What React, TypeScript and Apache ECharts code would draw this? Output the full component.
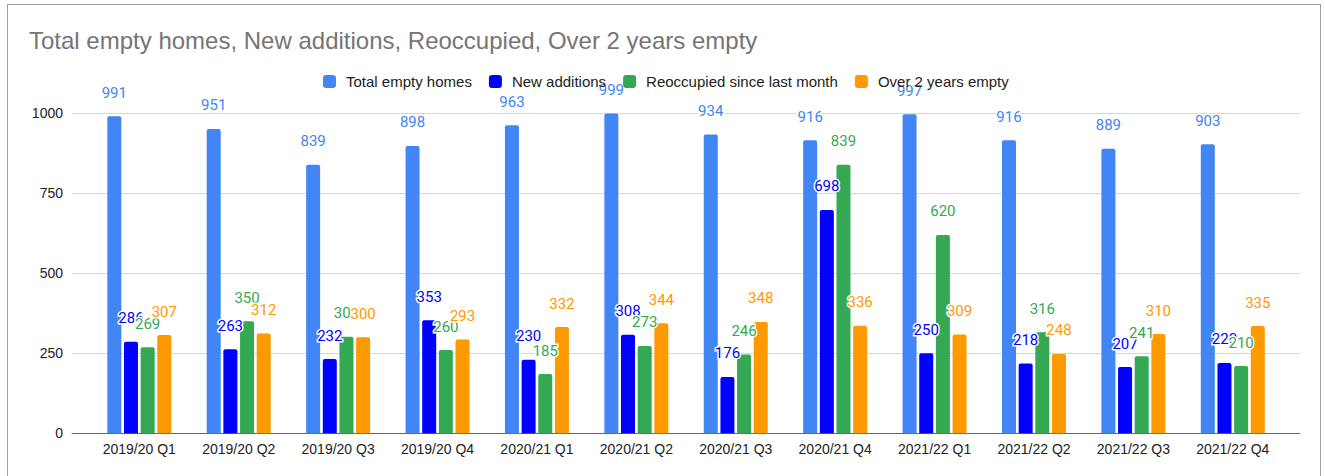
import React, { useEffect, useRef } from "react";
import * as echarts from "echarts";

const categories = [
  "2019/20 Q1", "2019/20 Q2", "2019/20 Q3", "2019/20 Q4",
  "2020/21 Q1", "2020/21 Q2", "2020/21 Q3", "2020/21 Q4",
  "2021/22 Q1", "2021/22 Q2", "2021/22 Q3", "2021/22 Q4",
];
const totalEmpty = [991, 951, 839, 898, 963, 999, 934, 916, 997, 916, 889, 903];
const newAdditions = [286, 263, 232, 353, 230, 308, 176, 698, 250, 218, 207, 220];
const reoccupied = [269, 350, 302, 260, 185, 273, 246, 839, 620, 316, 241, 210];
const over2Years = [307, 312, 300, 293, 332, 344, 348, 336, 309, 248, 310, 335];

const seriesDefs = [
  { name: "Total empty homes", data: totalEmpty, color: "#4285f4" },
  { name: "New additions", data: newAdditions, color: "#0000ff" },
  { name: "Reoccupied since last month", data: reoccupied, color: "#34a853" },
  { name: "Over 2 years empty", data: over2Years, color: "#ff9900" },
];

const FONT = "'Liberation Sans', Arial, sans-serif";

export default function App() {
  const ref = useRef<HTMLDivElement>(null);
  useEffect(() => {
    if (!ref.current) return;
    const chart = echarts.init(ref.current, null, { renderer: "svg" });
    chart.setOption({
      animation: false,
      backgroundColor: "transparent",
      title: {
        text: "Total empty homes, New additions, Reoccupied, Over 2 years empty",
        left: 29,
        top: 28,
        padding: 0,
        textStyle: { fontFamily: FONT, fontSize: 24, fontWeight: "normal", color: "#757575" },
      },
      legend: {
        left: 323,
        top: 74,
        padding: 0,
        itemWidth: 13,
        itemHeight: 13,
        itemGap: 17,
        icon: "roundRect",
        data: seriesDefs.map((s) => s.name),
        textStyle: { fontFamily: FONT, fontSize: 15, color: "#222", padding: [0, 0, 0, 5] },
      },
      grid: [
        { left: 72, right: 25, top: 113.3, bottom: 42.7 },
        { left: 89.6, right: 42.5, top: 113.3, bottom: 42.7 },
      ],
      xAxis: [
        {
          gridIndex: 0,
          type: "value",
          min: 0,
          max: 1,
          axisLine: { show: true, lineStyle: { color: "#666", width: 1 } },
          axisTick: { show: false },
          axisLabel: { show: false },
          splitLine: { show: false },
        },
        {
          gridIndex: 1,
          type: "category",
          data: categories,
          axisLine: { show: false },
          axisTick: { show: false },
          axisLabel: { fontFamily: FONT, fontSize: 14, color: "#222", margin: 9 },
        },
      ],
      yAxis: [
        {
          gridIndex: 0,
          type: "value",
          min: 0,
          max: 1000,
          interval: 250,
          axisLine: { show: false },
          axisTick: { show: false },
          axisLabel: {
            fontFamily: FONT,
            fontSize: 14,
            color: "#222",
            margin: 9,
            formatter: (v: number) => String(v),
          },
          splitLine: { show: true, lineStyle: { color: "#d6d6d6", width: 1 } },
        },
        {
          gridIndex: 1,
          type: "value",
          min: 0,
          max: 1000,
          show: false,
          splitLine: { show: false },
        },
      ],
      series: seriesDefs.map((s) => ({
        name: s.name,
        type: "bar",
        xAxisIndex: 1,
        yAxisIndex: 1,
        data: s.data,
        barWidth: 14,
        barGap: "19%",
        itemStyle: { color: s.color, borderRadius: [2, 2, 0, 0] },
        label: {
          show: true,
          position: "top",
          distance: 16,
          fontFamily: "Roboto, sans-serif",
          fontSize: 15,
          color: s.color,
          textBorderColor: "#fff",
          textBorderWidth: 3,
        },
        emphasis: { disabled: true },
      })),
    });
    return () => chart.dispose();
  }, []);
  return (
    <>
      <div
        style={{
          position: "absolute",
          left: 7,
          top: 4,
          width: 1314,
          height: 472,
          boxSizing: "border-box",
          borderTop: "1px solid #a0a0a0",
          borderLeft: "1px solid #a0a0a0",
          borderRight: "1px solid #a0a0a0",
          pointerEvents: "none",
        }}
      />
      <div ref={ref} style={{ position: "absolute", left: 0, top: 0, width: 1325, height: 476 }} />
    </>
  );
}
